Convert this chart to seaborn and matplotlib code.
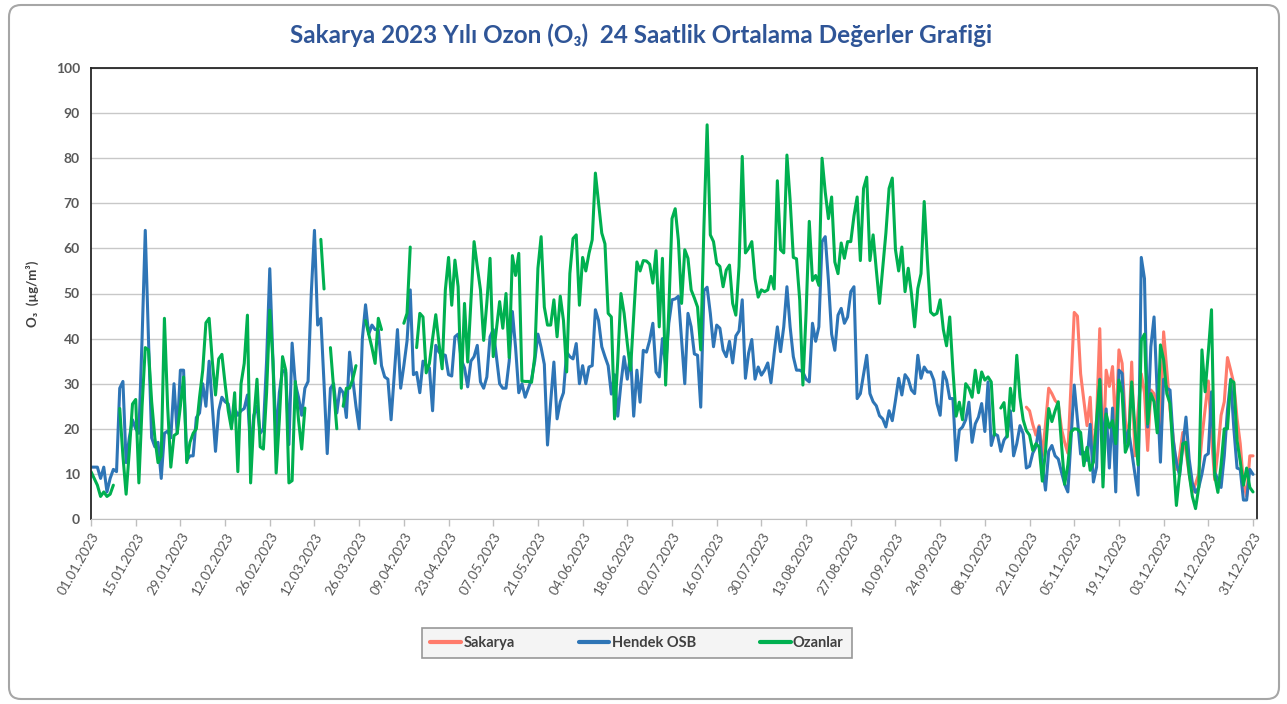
import numpy as np
import pandas as pd
import matplotlib
matplotlib.use("Agg")
import matplotlib.pyplot as plt
import matplotlib.dates as mdates
from matplotlib.lines import Line2D
from matplotlib.patches import FancyBboxPatch
import seaborn as sns

nan = np.nan
dates = pd.date_range("2023-01-01", "2023-12-31", freq="D")

# daily 24h mean O3 values (µg/m³)
hendek_osb = [
    11.5, 11.5, 11.5, 9, 11.5, 6, 9, 11, 10.5, 29,
    30.5, 12.5, 18, 22, 20, 19, 40, 64, 40, 18,
    16, 17, 9, 19, 19.5, 18, 30, 19, 33, 33,
    13, 14, 14, 22.5, 23.5, 30, 25, 35, 25, 15,
    24, 27, 26, 25.5, 21, 24.5, 23, 24, 24.5, 27.5,
    15, 23, 25, 19, 20, 35, 55.5, 35, 18, 28,
    33, 32.5, 16.5, 39, 30, 27, 23, 29, 30.5, 50,
    64, 43, 44.5, 30, 14.5, 29, 30, 23.5, 29, 28,
    22.5, 37, 31, 25, 20, 40, 47.5, 41, 43, 42,
    42, 34, 31.5, 31, 22, 32, 42, 29, 34, 39.5,
    50.8, 32, 32.5, 28, 35, 34, 33.5, 24, 38.5, 37,
    36.5, 36.3, 32, 31.7, 40.4, 41, 35.3, 33.5, 29.3, 35,
    36, 38.5, 30.4, 29, 31.5, 40.4, 42, 36, 30, 29,
    29, 35, 46, 38, 28, 30, 27, 29, 31, 35,
    41, 38, 34.3, 16.4, 26, 34.8, 22.2, 26, 28, 37,
    36, 35.5, 38.9, 30, 34, 30, 33.7, 34, 46.4, 44,
    38.2, 36, 34, 27.7, 32, 22.8, 30, 36, 31, 36.7,
    22.8, 33, 25.9, 37.4, 37, 39.6, 43.4, 32.6, 31.5, 40,
    34, 43.4, 48.6, 48.8, 49.4, 39.6, 30, 45.6, 42.6, 36.6,
    36.3, 24.8, 50.6, 51.4, 45.6, 38.2, 43, 42.3, 37.5, 36,
    39.4, 34.6, 40.6, 41.7, 48.6, 31.2, 36.8, 39.8, 31, 33.7,
    31.9, 33, 34.6, 30.2, 36.7, 42.6, 37.1, 42.6, 51.5, 42.6,
    36, 33, 33, 32.6, 31, 30.4, 43.4, 39.4, 42.6, 61.5,
    62.6, 52.9, 41, 37.4, 45.2, 46.7, 43.4, 44.8, 50.4, 51.5,
    26.7, 27.8, 32, 36.3, 27.8, 26, 25.1, 22.9, 22.2, 20.4,
    24, 21.8, 26.3, 31.2, 27.5, 32, 31, 28.6, 27.8, 36.3,
    31.2, 33.7, 32.6, 32.6, 30.8, 25.6, 23, 32.6, 30.8, 26.7,
    26.7, 13, 19.7, 20.4, 22, 25.9, 17, 21.1, 22.6, 25.6,
    19.4, 30.4, 16.3, 18.9, 18.5, 15, 17.5, 18.5, 24, 14,
    16.7, 20.7, 18.9, 11.3, 11.7, 14.6, 16, 20.4, 12, 6.4,
    15, 16.3, 14, 13.3, 10.4, 7.7, 6, 18, 29.7, 22,
    14.4, 14.8, 13, 21, 8.2, 11.5, 31, 16.3, 24.4, 11.3,
    24.6, 6, 33, 32.3, 16.7, 19.7, 15, 10, 5.3, 58,
    53.3, 20.4, 38.2, 44.8, 27.8, 12.6, 31, 29, 28.6, 17.5,
    12.6, 9.6, 16, 22.6, 13.3, 8, 5.9, 7, 10, 14,
    14.5, 28.2, 10.3, 8.8, 7, 14, 24.2, 31, 20, 11.3,
    11, 4.2, 4.2, 11, 9.9,
]

ozanlar = [
    10.5, 9, 7.5, 5, 6, 5, 5.5, 7.5, nan, 24.5,
    14, 5.5, 15, 25.5, 26.5, 8, 25, 38, 37.5, 26,
    18, 12.5, 14, 44.5, 25, 11.5, 18.5, 19, 25, 31.5,
    12.5, 17, 19, 20, 27, 33, 43.5, 44.5, 35, 27.5,
    35.5, 36.5, 30, 24, 20, 28, 10.5, 30, 34.5, 45.2,
    8, 22, 31, 16, 15.5, 28, 46.3, 35, 10.2, 22,
    36, 33, 8, 8.5, 30.5, 22, 15.5, 24.6, nan, nan,
    nan, nan, 62, 51, nan, 38, 29, 20, nan, 25,
    29, 29, 31, 34, nan, nan, 44, 41, 38, 34.5,
    44.5, 42, nan, nan, nan, nan, nan, nan, 43.4, 45.6,
    60.3, nan, 38, 45.6, 44.8, 32.4, 34.5, 40, 45.3, 39,
    33.3, 50.8, 58, 47.4, 57.4, 51.5, 29, 47.8, 34.8, 48,
    61.5, 56, 50.8, 39.6, 48, 57.8, 36, 42, 48.2, 42.3,
    50, 35.8, 58.4, 54, 58.9, 30.6, 30.5, 30.5, 30.3, 36,
    55.6, 62.6, 47, 43, 43, 48.6, 40.4, 49.4, 44, 32.6,
    54.4, 62.2, 63, 47.4, 58, 55, 58.9, 61.9, 76.7, 70,
    63.4, 61, 45.6, 44.8, 22.2, 35, 50, 45.6, 38.9, 33,
    45, 57, 55, 57.3, 57.2, 56.5, 52.3, 59.5, 42.6, 57.8,
    29.7, 46.5, 66.6, 68.8, 61.8, 47.8, 59.7, 57.8, 50.8, 49,
    47, 37.5, 64.8, 87.4, 63, 61.5, 56.7, 56, 51.5, 55.2,
    56.3, 47.8, 45.2, 56, 80.4, 59, 60, 61.5, 53.3, 49.2,
    50.8, 50.4, 50.8, 53.8, 51, 75, 59.7, 59, 80.7, 70.7,
    58, 57.7, 48.6, 29.7, 45.6, 66, 52.9, 54, 51.8, 80,
    72.5, 66.6, 71.4, 57, 54.4, 61.2, 57.8, 61.5, 61.5, 67.2,
    71.4, 57.3, 73.3, 75.8, 57.3, 63, 55.2, 47.8, 55.6, 63.4,
    73.3, 75.6, 59.7, 55, 60.3, 50.4, 55.6, 50, 42.6, 51.1,
    54.4, 70.4, 57.3, 45.9, 45.2, 45.6, 48.6, 42, 38.4, 44.8,
    33, 22.8, 25.9, 22, 30, 29, 27, 33, 28, 32.6,
    30.8, 31.5, 30.4, 18.6, nan, 24.6, 25.8, 18.2, 29, 24,
    36.3, 27, 22, 19.6, 18.6, 15.2, 16.7, 16, 8.4, 15,
    24.5, 21.6, 24, 26, 16.7, 7.7, 12, 19.3, 20, 19.9,
    19.2, 11.8, 15.9, 10.8, 12.6, 22, 30.8, 7.1, 23.3, 20.3,
    21.8, 16.7, 30.8, 27.8, 14.8, 16.7, 30.4, 20, 12, 39.6,
    41, 21.1, 27.8, 26, 19.1, 38.6, 35.3, 27.8, 25.6, 14,
    3, 10, 16.7, 17, 10, 5, 2.3, 7, 37.5, 28.2,
    37, 46.4, 9.6, 5.9, 12, 20, 20, 30.8, 30.3, 17.4,
    12.8, 7.5, 11.3, 7, 6,
]

# Sakarya station only reports from 21.10.2023 on
sakarya = [nan] * 293 + [
    24.8, 24, 21, 18.6, 20.7, 14, 21,
    29, 27.8, 26.3, 25.5, 20, 17, 14.6, 30, 45.8, 45,
    32.2, 26.3, 20.7, 27, 12.7, 22.2, 42.2, 13, 33, 29.4,
    33.8, 19.2, 37.5, 34.5, 22, 17, 34.8, 14, 24, 32.2,
    28, 15.2, 28.6, 27.8, 24, 19.2, 41.5, 33, 24.4, 18,
    11, 14, 19.2, 15, 10, 6, 7.8, 10, 18, 24.4,
    30.6, 18.2, 8.7, 15, 23, 26, 35.8, 33, 30, 22.3,
    16.7, 8, 5, 14, 14,
]

stations = ["Sakarya", "Hendek OSB", "Ozanlar"]
colors = ["#FF7B6B", "#2E75B6", "#00B050"]
series = dict(zip(stations, [sakarya, hendek_osb, ozanlar]))


def to_frame(name, values):
    s = pd.Series(values, index=dates, dtype=float)
    part = s.isna().cumsum()  # new piece after every gap, so lines break
    df = pd.DataFrame({"tarih": dates, "deger": s.values, "istasyon": name,
                       "parca": [f"{name}-{k}" for k in part]})
    return df.dropna(subset=["deger"])


data = pd.concat([to_frame(n, v) for n, v in series.items()], ignore_index=True)

sns.set_style("white")
plt.rcParams["font.family"] = ["Lato", "DejaVu Sans"]

W, H = 1287, 704
fig = plt.figure(figsize=(W / 100, H / 100), dpi=100)
fig.patch.set_facecolor("white")
fig.patches.append(FancyBboxPatch((0.09, 0.05), 12.70, 6.94,
                                  boxstyle="round,pad=0,rounding_size=0.12",
                                  transform=fig.dpi_scale_trans, facecolor="none",
                                  edgecolor="#A6A6A6", linewidth=1.5))

ax = fig.add_axes([91 / W, 1 - 519 / H, (1257 - 91) / W, (519 - 68) / H])
sns.lineplot(data=data, x="tarih", y="deger", hue="istasyon", hue_order=stations,
             units="parca", estimator=None, palette=dict(zip(stations, colors)),
             linewidth=2.2, legend=False, ax=ax)

ax.set_ylim(0, 100)
ax.set_yticks(range(0, 101, 10))
ax.set_xlim(dates[0], dates[-1] + pd.Timedelta(hours=30))
ticks = pd.date_range("2023-01-01", "2023-12-31", freq="14D")
ax.set_xticks(ticks)
ax.xaxis.set_major_formatter(mdates.DateFormatter("%d.%m.%Y"))
plt.setp(ax.get_xticklabels(), rotation=60, ha="right", rotation_mode="anchor")
ax.tick_params(axis="x", colors="#BFBFBF", labelcolor="#595959", labelsize=9.8,
               length=5, width=1, direction="out", bottom=True, pad=3)
ax.tick_params(axis="y", labelcolor="#595959", labelsize=10, length=0, pad=8)
for lab in ax.get_yticklabels():
    lab.set_fontweight("bold")

ax.grid(axis="y", color="#C8C8C8", linewidth=1)
ax.grid(axis="x", visible=False)
for side in ["left", "top", "right"]:
    ax.spines[side].set_color("#262626")
    ax.spines[side].set_linewidth(1.3)
ax.spines["bottom"].set_color("#BFBFBF")

ax.set_xlabel("")
ax.set_ylabel("O₃  (µg/m³)", fontsize=9.5, fontweight="bold", color="#404040", labelpad=12)

fig.text(0.498, 0.950, "Sakarya 2023 Yılı Ozon (O₃)  24 Saatlik Ortalama Değerler Grafiği",
         ha="center", va="center", fontsize=17.5, fontweight="bold", color="#2F5597")

handles = [Line2D([], [], color=c, linewidth=3) for c in colors]
leg = fig.legend(handles, stations, loc="center", bbox_to_anchor=(637 / W, 1 - 643 / H),
                 ncol=3, frameon=True, fancybox=False, fontsize=10.5,
                 handlelength=2.1, handletextpad=0.15, columnspacing=4.4,
                 borderpad=0.55, borderaxespad=0)
leg.get_frame().set_edgecolor("#7F7F7F")
leg.get_frame().set_facecolor("#F2F2F2")
leg.get_frame().set_linewidth(1.2)
for t in leg.get_texts():
    t.set_color("#404040")
    t.set_fontweight("bold")

fig.savefig("out.png", dpi=100)
